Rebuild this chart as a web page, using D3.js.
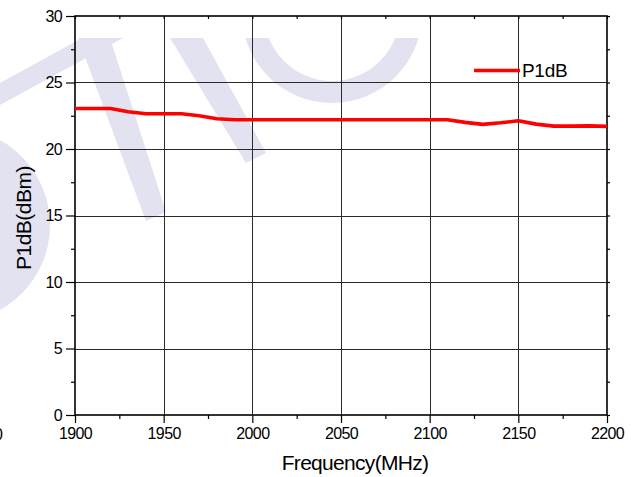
<!DOCTYPE html>
<html>
<head>
<meta charset="utf-8">
<script src="https://cdn.jsdelivr.net/npm/d3@7"></script>
<style>
  html, body { margin: 0; padding: 0; background: #fff; }
  svg { display: block; font-family: "Liberation Sans", Arial, sans-serif; }
</style>
</head>
<body>
<svg id="chart" width="634" height="477"></svg>
<script>
// P1dB measured across the band, one reading every 10 MHz
const freqs = [1900, 1910, 1920, 1930, 1940, 1950, 1960, 1970, 1980, 1990,
               2000, 2010, 2020, 2030, 2040, 2050, 2060, 2070, 2080, 2090,
               2100, 2110, 2120, 2130, 2140, 2150, 2160, 2170, 2180, 2190, 2200];
const p1db  = [23.05, 23.05, 23.05, 22.8, 22.65, 22.65, 22.65, 22.5, 22.28, 22.2,
               22.2, 22.2, 22.2, 22.2, 22.2, 22.2, 22.2, 22.2, 22.2, 22.2,
               22.2, 22.2, 22.0, 21.85, 21.97, 22.12, 21.87, 21.72, 21.72, 21.74, 21.7];
const xTicks = [1900, 1950, 2000, 2050, 2100, 2150, 2200];
const xMinor = [1925, 1975, 2025, 2075, 2125, 2175];
const yTicks = [0, 5, 10, 15, 20, 25, 30];
const yMinor = [2.5, 7.5, 12.5, 17.5, 22.5, 27.5];
const seriesName = "P1dB";
const xTitle = "Frequency(MHz)";
const yTitle = "P1dB(dBm)";

const svg = d3.select("#chart");
const L = 75, R = 607, T = 16, B = 415;

const x = d3.scaleLinear().domain([1900, 2200]).range([L, R]);
const y = d3.scaleLinear().domain([0, 30]).range([B, T]);

// faint backdrop logo
svg.append("clipPath").attr("id", "logoClip")
  .append("rect").attr("x", 0).attr("y", 38).attr("width", 634).attr("height", 440);
const logo = svg.append("g").attr("fill", "#e2e2f0").attr("clip-path", "url(#logoClip)");
logo.append("polygon").attr("points", "0,83 82,38 123,38 0,105");
logo.append("polygon").attr("points", "78,38 110,38 166,212 146,221");
logo.append("polygon").attr("points", "170,38 203,38 266,153 246,163");
const ring = d3.arc().innerRadius(68).outerRadius(90).startAngle(0).endAngle(2 * Math.PI);
logo.append("path").attr("d", ring()).attr("transform", "translate(332,13)");
logo.append("circle").attr("cx", -47).attr("cy", 225).attr("r", 97);

// grid
const grid = svg.append("g").attr("stroke", "#2a2a2a").attr("stroke-width", 1);
grid.selectAll("line.v").data(xTicks.slice(1, -1)).join("line")
  .attr("x1", d => Math.round(x(d)) + 0.5).attr("x2", d => Math.round(x(d)) + 0.5)
  .attr("y1", T).attr("y2", B);
grid.selectAll("line.h").data(yTicks.slice(1, -1)).join("line")
  .attr("y1", d => Math.round(y(d)) + 0.5).attr("y2", d => Math.round(y(d)) + 0.5)
  .attr("x1", L).attr("x2", R);

// axes
const axisStyle = g => {
  g.select(".domain").remove();
  g.selectAll(".tick line").attr("stroke", "#000").attr("stroke-width", 1.2);
  g.selectAll(".tick text").attr("fill", "#000")
    .style("font-family", "'Liberation Sans', Arial, sans-serif")
    .style("font-size", "16px").style("letter-spacing", "-0.6px");
};

svg.append("g").attr("transform", `translate(0,${B})`)
  .call(d3.axisBottom(x).tickValues(xTicks).tickSize(8).tickPadding(5).tickFormat(d3.format("d")))
  .call(axisStyle);
svg.append("g").attr("transform", `translate(0,${B})`)
  .call(d3.axisBottom(x).tickValues(xMinor).tickSize(4).tickFormat(""))
  .call(axisStyle);
svg.append("g").attr("transform", `translate(${L},0)`)
  .call(d3.axisLeft(y).tickValues(yTicks).tickSize(9).tickPadding(4).tickFormat(d3.format("d")))
  .call(axisStyle);
svg.append("g").attr("transform", `translate(${L},0)`)
  .call(d3.axisLeft(y).tickValues(yMinor).tickSize(4).tickFormat(""))
  .call(axisStyle);
svg.append("g").attr("transform", `translate(0,${T})`)
  .call(d3.axisBottom(x).tickValues(xTicks.concat(xMinor)).tickSize(3).tickFormat(""))
  .call(axisStyle);
svg.append("g").attr("transform", `translate(${R},0)`)
  .call(d3.axisRight(y).tickValues(yTicks.concat(yMinor)).tickSize(3).tickFormat(""))
  .call(axisStyle);

// frame
svg.append("rect").attr("x", L).attr("y", T).attr("width", R - L).attr("height", B - T)
  .attr("fill", "none").attr("stroke", "#000").attr("stroke-width", 1.6);

// series
const line = d3.line().x((d, i) => x(freqs[i])).y(d => y(d));
svg.append("path").datum(p1db).attr("d", line)
  .attr("fill", "none").attr("stroke", "#ff0000").attr("stroke-width", 3.6)
  .attr("stroke-linejoin", "round");

// legend
svg.append("line").attr("x1", 474).attr("x2", 520).attr("y1", 70.5).attr("y2", 70.5)
  .attr("stroke", "#ff0000").attr("stroke-width", 3.6);
svg.append("text").attr("x", 522).attr("y", 77).attr("font-size", 19).attr("fill", "#000")
  .style("letter-spacing", "-0.3px").text(seriesName);

// titles
svg.append("text").attr("x", 355).attr("y", 470).attr("text-anchor", "middle")
  .attr("font-size", 21).style("letter-spacing", "-0.7px").attr("fill", "#000").text(xTitle);
svg.append("text").attr("transform", "translate(31,218) rotate(-90)").attr("text-anchor", "middle")
  .attr("font-size", 21).style("letter-spacing", "-0.5px").attr("fill", "#000").text(yTitle);

// stray edge digit
svg.append("text").attr("x", 3).attr("y", 440).attr("text-anchor", "end")
  .attr("font-size", 16).attr("fill", "#000").text("0");
</script>
</body>
</html>
